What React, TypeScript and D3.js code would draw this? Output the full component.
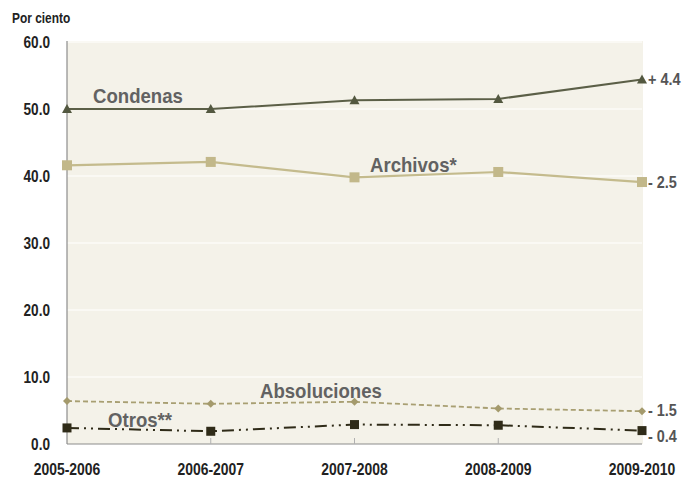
import React from "react";
import * as d3 from "d3";

const categories = ["2005-2006", "2006-2007", "2007-2008", "2008-2009", "2009-2010"];
const condenas = [50.0, 50.0, 51.3, 51.5, 54.4];
const archivos = [41.6, 42.1, 39.8, 40.6, 39.1];
const absoluciones = [6.4, 6.0, 6.3, 5.3, 4.9];
const otros = [2.4, 1.9, 2.9, 2.8, 2.0];
const yTicks = [0, 10, 20, 30, 40, 50, 60];
const changeLabels = ["+ 4.4", "- 2.5", "- 1.5", "- 0.4"];
const seriesNames = ["Condenas", "Archivos*", "Absoluciones", "Otros**"];

const W = 694, H = 480;
const left = 67, right = 642, top = 42, bottom = 444;
const FONT = "'Liberation Sans', Arial, sans-serif";

function Txt(props: { x: number; y: number; sx: number; anchor?: string; size: number; fill: string; dy?: string; children: React.ReactNode }) {
  return (
    <g transform={`translate(${props.x},${props.y}) scale(${props.sx},1)`}>
      <text x={0} y={0} dy={props.dy} textAnchor={props.anchor || "start"} fontSize={props.size} fontWeight="bold" fill={props.fill}>
        {props.children}
      </text>
    </g>
  );
}

export default function App() {
  const x = d3.scalePoint<string>().domain(categories).range([left, right]);
  const y = d3.scaleLinear().domain([0, 60]).range([bottom, top]);
  const line = d3.line<number>().x((_, i) => x(categories[i])!).y((d) => y(d));

  const series = [
    { data: condenas, color: "#5b5f47", width: 2, dash: undefined, marker: "tri", mcolor: "#535840" },
    { data: archivos, color: "#c4bb8d", width: 2.2, dash: undefined, marker: "sq", mcolor: "#c2b88a" },
    { data: absoluciones, color: "#a89f72", width: 1.8, dash: "5,3", marker: "dia", mcolor: "#a49a6c" },
    { data: otros, color: "#2f2b18", width: 2, dash: "12,5,2,5,2,5", marker: "sq2", mcolor: "#2f2b18" },
  ];

  const labelPos = [
    { x: 93, y: 103 },
    { x: 370, y: 172 },
    { x: 260, y: 398 },
    { x: 108, y: 427 },
  ];
  const changeY = [condenas[4], archivos[4], absoluciones[4], otros[4]];
  const changeOffsets = [0, 0, -1, 5];

  const marker = (type: string, cx: number, cy: number, color: string, key: string) => {
    if (type === "tri") {
      const s = 5;
      return <path key={key} d={`M${cx},${cy - s} L${cx + s},${cy + s * 0.8} L${cx - s},${cy + s * 0.8} Z`} fill={color} />;
    }
    if (type === "sq") return <rect key={key} x={cx - 5} y={cy - 5} width={10} height={10} fill={color} />;
    if (type === "sq2") return <rect key={key} x={cx - 4.5} y={cy - 4.5} width={9} height={9} fill={color} />;
    const s = 4;
    return <path key={key} d={`M${cx},${cy - s} L${cx + s},${cy} L${cx},${cy + s} L${cx - s},${cy} Z`} fill={color} />;
  };

  return (
    <svg width={W} height={H} style={{ position: "absolute", left: 0, top: 0 }} fontFamily={FONT}>
      <rect x={left} y={top - 1} width={right - left + 1} height={bottom - top + 1} fill="#f4f2e9" />
      {yTicks.filter((t) => t > 0).map((t) => (
        <line key={t} x1={left} x2={right} y1={y(t)} y2={y(t)} stroke="#ffffff" strokeWidth={1.2} />
      ))}
      <line x1={left} x2={left} y1={top - 1} y2={bottom} stroke="#8c8c8c" strokeWidth={1.2} />
      <line x1={left} x2={right} y1={bottom} y2={bottom} stroke="#8c8c8c" strokeWidth={1.2} />
      {categories.slice(1, 4).map((c) => (
        <line key={c} x1={x(c)!} x2={x(c)!} y1={bottom} y2={bottom - 6} stroke="#b0b0b0" strokeWidth={1} />
      ))}
      {yTicks.map((t) => (
        <Txt key={t} x={50} y={y(t)} dy="0.36em" anchor="end" sx={0.8} size={17} fill="#222">
          {t.toFixed(1)}
        </Txt>
      ))}
      <Txt x={12} y={23} sx={0.85} size={14} fill="#222">Por ciento</Txt>
      {categories.map((c) => (
        <Txt key={c} x={x(c)!} y={475} anchor="middle" sx={0.82} size={17} fill="#222">
          {c}
        </Txt>
      ))}
      {series.map((s, si) => (
        <g key={si}>
          <path d={line(s.data)!} fill="none" stroke={s.color} strokeWidth={s.width} strokeDasharray={s.dash} />
          {s.data.map((v, i) => marker(s.marker, x(categories[i])!, y(v), s.mcolor, `${si}-${i}`))}
        </g>
      ))}
      {seriesNames.map((n, i) => (
        <Txt key={n} x={labelPos[i].x} y={labelPos[i].y} sx={0.93} size={20} fill="#626262">
          {n}
        </Txt>
      ))}
      {changeLabels.map((c, i) => (
        <Txt key={c} x={648} y={y(changeY[i]) + changeOffsets[i]} dy="0.35em" sx={0.85} size={17} fill="#555">
          {c}
        </Txt>
      ))}
    </svg>
  );
}
